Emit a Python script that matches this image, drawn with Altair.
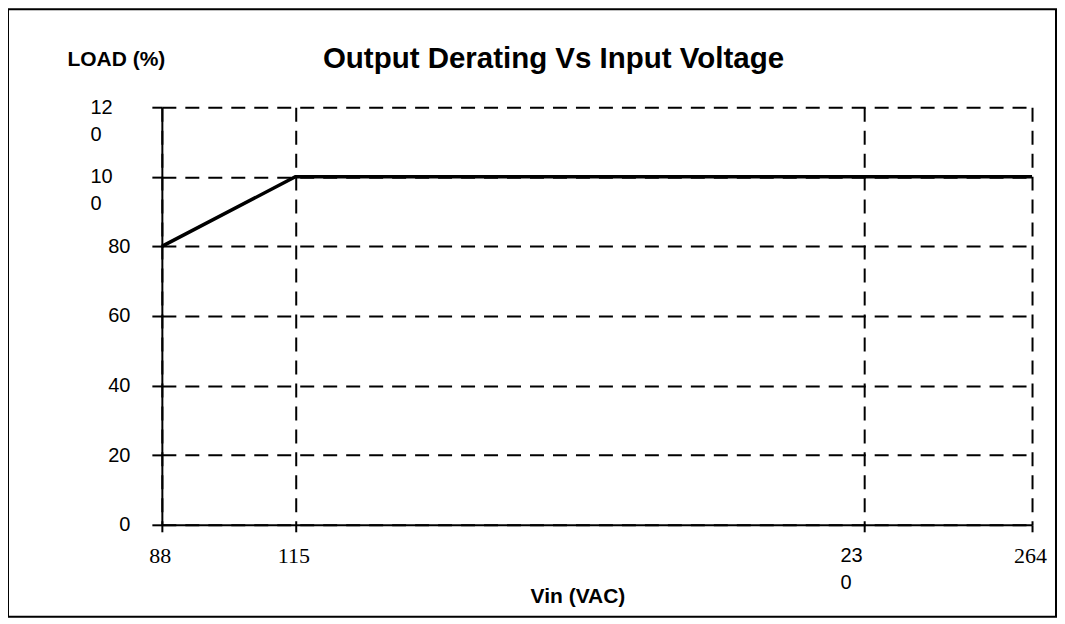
import altair as alt
import pandas as pd

# ---- data ----
vin = [88, 115, 230, 264]
load = [80, 100, 100, 100]
x_ticks = [88, 115, 230, 264]
y_ticks = [0, 20, 40, 60, 80, 100, 120]
chart_title = "Output Derating Vs Input Voltage"
x_title = "Vin (VAC)"
y_title = "LOAD (%)"

df = pd.DataFrame({"vin": vin, "load": load})
title_df = pd.DataFrame({"t": [chart_title]})

SANS = "Liberation Sans"
SERIF = "Liberation Serif"

x_axis = alt.Axis(
    values=x_ticks,
    grid=True, gridColor="black", gridWidth=2, gridDash=[14, 9],
    domainColor="black", domainWidth=2,
    tickColor="black", tickWidth=2, tickSize=7,
    labelExpr="datum.value == 230 ? ['23', '0'] : datum.label",
    labelFont={"condition": {"test": "datum.value == 230", "value": SANS}, "value": SERIF},
    labelFontSize={"condition": {"test": "datum.value == 230", "value": 20}, "value": 22},
    labelAlign={"condition": {"test": "datum.value == 230", "value": "left"}, "value": "center"},
    labelOffset={"condition": {"test": "datum.value == 230", "value": -24}, "value": -2},
    labelBaseline="top", labelPadding=14, labelLineHeight=27, labelColor="black",
    labelFlush=False, labelOverlap=False,
    title=x_title, titleFont=SANS, titleFontSize=21, titleFontWeight="bold",
    titleColor="black", titleX=416, titleY=78, titleAlign="center",
    titleBaseline="alphabetic",
)

y_axis = alt.Axis(
    values=y_ticks,
    grid=True, gridColor="black", gridWidth=2, gridDash=[14, 9],
    domainColor="black", domainWidth=2,
    tickColor="black", tickWidth=2, tickSize=10,
    labelExpr="datum.value >= 100 ? [slice(datum.label, 0, 2), slice(datum.label, 2)] : datum.label",
    labelAlign={"condition": {"test": "datum.value >= 100", "value": "left"}, "value": "right"},
    labelPadding={"condition": {"test": "datum.value >= 100", "value": 62}, "value": 22},
    labelBaseline="middle", labelLineHeight=27, labelFont=SANS, labelFontSize=20,
    labelColor="black", labelFlush=False, labelOverlap=False,
    title=y_title, titleAngle=0, titleX=-46, titleY=-42, titleAlign="center",
    titleBaseline="alphabetic", titleFont=SANS, titleFontSize=21,
    titleFontWeight="bold", titleColor="black",
)

x_enc = alt.X("vin:Q", scale=alt.Scale(domain=[88, 264], nice=False, zero=False), axis=x_axis)
y_enc = alt.Y("load:Q", scale=alt.Scale(domain=[0, 120], nice=False), axis=y_axis)

line = alt.Chart(df).mark_line(color="black", strokeWidth=3.5).encode(x=x_enc, y=y_enc)

title_mark = alt.Chart(title_df).mark_text(
    font=SANS, fontSize=29.5, fontWeight="bold", align="center", baseline="alphabetic", color="black"
).encode(text="t:N", x=alt.value(392), y=alt.value(-39))

frame = alt.Chart(title_df).mark_rect(
    fillOpacity=0, stroke="black", strokeWidth=2
).encode(x=alt.value(-154), x2=alt.value(895), y=alt.value(-98), y2=alt.value(510))

chart = alt.layer(line, title_mark, frame).properties(
    width=871, height=418,
    autosize=alt.AutoSizeParams(type="none"),
    padding={"left": 154, "top": 99, "right": 25, "bottom": 95},
    background="white",
).configure_view(stroke=None)

chart.save("out.html", embed_options={"renderer": "svg", "actions": False})
